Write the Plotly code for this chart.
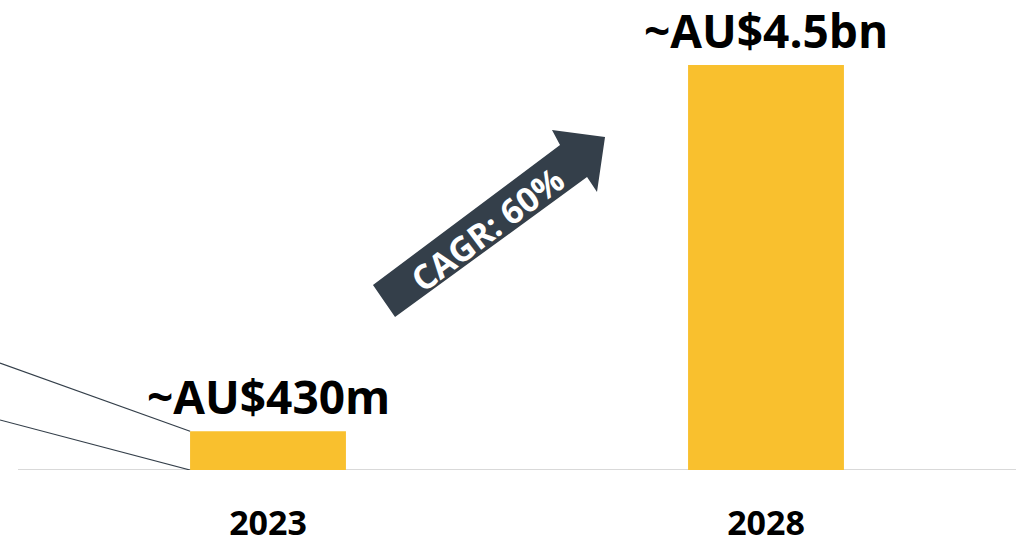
import plotly.graph_objects as go

years = ["2023", "2028"]
market_bn = [0.43, 4.5]
value_labels = ["~AU$430m", "~AU$4.5bn"]
cagr_label = "CAGR: 60%"

W, H = 1030, 539
ML, MR, MT, MB = 0, 14, 0, 69
PW, PH = W - ML - MR, H - MT - MB

BAR = "#F9C02E"
DARK = "#343F4A"
FONT = "Open Sans"

UNIT = 498          # px per category step
X0 = -0.502         # where the baseline starts
X_LEFT = X0 - 18 / UNIT


def px(x, y):
    # pixel position -> paper coords
    return (x - ML) / PW, (H - MB - y) / PH


xs = list(range(len(years)))
bar_w = 0.313

fig = go.Figure()
fig.add_trace(go.Bar(
    x=xs, y=market_bn, width=bar_w,
    marker=dict(color=BAR, line=dict(width=0)),
    hoverinfo="skip", showlegend=False,
))

for x, v, t in zip(xs, market_bn, value_labels):
    fig.add_annotation(
        x=x, y=v, text=f"<b>{t}</b>", showarrow=False,
        yanchor="bottom", yshift=2,
        font=dict(family=FONT, size=46, color="#000000"),
    )

# baseline
fig.add_shape(type="line", xref="x", yref="y", x0=X0, x1=1.502, y0=0, y1=0,
              line=dict(color="#D9D9D9", width=2), layer="below")

# connector lines on the left
fig.add_shape(type="line", xref="x", yref="y", x0=X_LEFT, y0=(470 - 363) / 90,
              x1=xs[0] - bar_w / 2, y1=market_bn[0],
              line=dict(color=DARK, width=1.2))
fig.add_shape(type="line", xref="x", yref="y", x0=X_LEFT, y0=(470 - 420) / 90,
              x1=xs[0] - bar_w / 2, y1=0,
              line=dict(color=DARK, width=1.2))

# CAGR arrow
pts = [(373, 285), (560, 145), (552, 130), (605, 137), (597, 192), (587, 177), (395, 317)]
pp = [px(a, b) for a, b in pts]
path = "M " + " L ".join(f"{a:.4f},{b:.4f}" for a, b in pp) + " Z"
fig.add_shape(type="path", xref="paper", yref="paper", path=path,
              fillcolor=DARK, line=dict(width=0), layer="above")
cx, cy = px(487, 229)
fig.add_annotation(
    xref="paper", yref="paper", x=cx, y=cy, text=f"<b>{cagr_label}</b>",
    showarrow=False, textangle=-37, xanchor="center", yanchor="middle",
    font=dict(family=FONT, size=34, color="#FFFFFF"),
)

fig.update_layout(
    width=W, height=H,
    margin=dict(l=ML, r=MR, t=MT, b=MB, autoexpand=False),
    plot_bgcolor="white", paper_bgcolor="white",
    xaxis=dict(
        range=[X_LEFT, 1.502], tickvals=xs, ticktext=[f"<b>{y}</b>" for y in years],
        showgrid=False, zeroline=False, showline=False,
        ticks="", ticklabelstandoff=30, automargin=False,
        tickfont=dict(family=FONT, size=34, color="#000000"),
    ),
    yaxis=dict(range=[0, 470 / 90], visible=False, automargin=False),
)

fig.write_html("out.html", config={"displayModeBar": False},
               post_script="document.body.style.margin='0';")
